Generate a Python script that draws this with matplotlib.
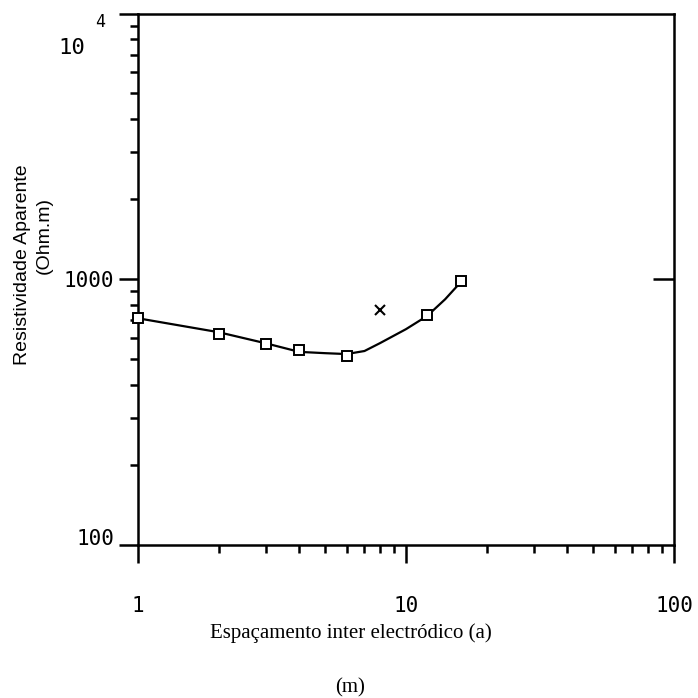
import matplotlib
matplotlib.use("Agg")
import matplotlib.pyplot as plt
from matplotlib.ticker import FixedLocator, NullFormatter, NullLocator

# measured apparent resistivity (squares) and rejected reading (cross)
spacing = [1, 2, 3, 4, 6, 12, 16]
rho_obs = [713, 622, 570, 541, 515, 735, 983]
spacing_rej = [8]
rho_rej = [767]

# fitted model curve
spacing_fit = [1, 2, 3, 4, 5, 6, 7, 8, 10, 12, 14, 16]
rho_fit = [713, 632, 574, 533, 527, 523, 537, 575, 649, 728, 841, 975]

x_ticks = [1, 10, 100]
x_ticklabels = ['1', '10', '100']
y_ticks = [100, 1000, 10000]
y_ticklabels = ['100', '1000', '']

W = 698.
fig = plt.figure(figsize=(6.98, 6.98), dpi=100)
ax = fig.add_axes([138/W, 1-545/W, 536/W, 531.5/W])

ax.set_xscale('log')
ax.set_yscale('log')
ax.set_xlim(1, 100)
ax.set_ylim(100, 10000)

ax.plot(spacing_fit, rho_fit, color='k', lw=1.6, zorder=3, clip_on=False)
ax.plot(spacing, rho_obs, ls='none', marker='s', ms=7, mfc='white', mec='k',
        mew=1.4, zorder=4, clip_on=False)
ax.plot(spacing_rej, rho_rej, ls='none', marker='x', ms=7, color='k',
        mew=1.5, zorder=4)

for s in ax.spines.values():
    s.set_linewidth(1.8)

mono = 'DejaVu Sans Mono'
minor = [m*10**d for d in range(0, 4) for m in range(2, 10)]

ax.xaxis.set_major_locator(FixedLocator(x_ticks))
ax.xaxis.set_minor_locator(FixedLocator(minor))
ax.set_xticklabels(x_ticklabels, fontfamily=mono, fontsize=15)
ax.xaxis.set_minor_formatter(NullFormatter())
ax.tick_params(axis='x', which='major', direction='out', length=13, width=1.8, pad=24)
ax.tick_params(axis='x', which='minor', direction='out', length=6, width=1.8)

ax.yaxis.set_major_locator(FixedLocator(y_ticks))
ax.yaxis.set_minor_locator(FixedLocator(minor))
ax.set_yticklabels(y_ticklabels, fontfamily=mono, fontsize=15)
ax.yaxis.set_minor_formatter(NullFormatter())
ax.tick_params(axis='y', which='major', direction='out', length=14, width=1.8, pad=3)
ax.tick_params(axis='y', which='minor', direction='out', length=6, width=1.8)
ax.get_yticklabels()[0].set_va('baseline')

# single inward tick on the right axis at 1000
ax2 = ax.twinx()
ax2.set_yscale('log')
ax2.set_ylim(ax.get_ylim())
ax2.yaxis.set_major_locator(FixedLocator([1000]))
ax2.yaxis.set_minor_locator(NullLocator())
ax2.set_yticklabels([])
ax2.tick_params(axis='y', direction='in', length=15, width=1.8)
for s in ax2.spines.values():
    s.set_visible(False)

# 10^4 label in plotter style
fig.text(72/W, 1-48/W, '10', fontfamily=mono, fontsize=16, ha='center', va='center')
fig.text(100/W, 1-22/W, '4', fontfamily=mono, fontsize=12, ha='center', va='center')

serif = 'Liberation Serif'
sans = 'Liberation Sans'
fig.text(351/W, 1-633/W, 'Espaçamento inter electródico (a)',
         fontfamily=serif, fontsize=15, ha='center', va='center')
fig.text(350/W, 1-688/W, '(m)',
         fontfamily=serif, fontsize=15, ha='center', va='center')
fig.text(23/W, 1-265/W, 'Resistividade Aparente', rotation=90,
         fontfamily=sans, fontsize=14, ha='center', va='center')
fig.text(44/W, 1-235/W, '(Ohm.m)', rotation=90,
         fontfamily=sans, fontsize=14, ha='center', va='center')

fig.savefig('out.png', dpi=100)
